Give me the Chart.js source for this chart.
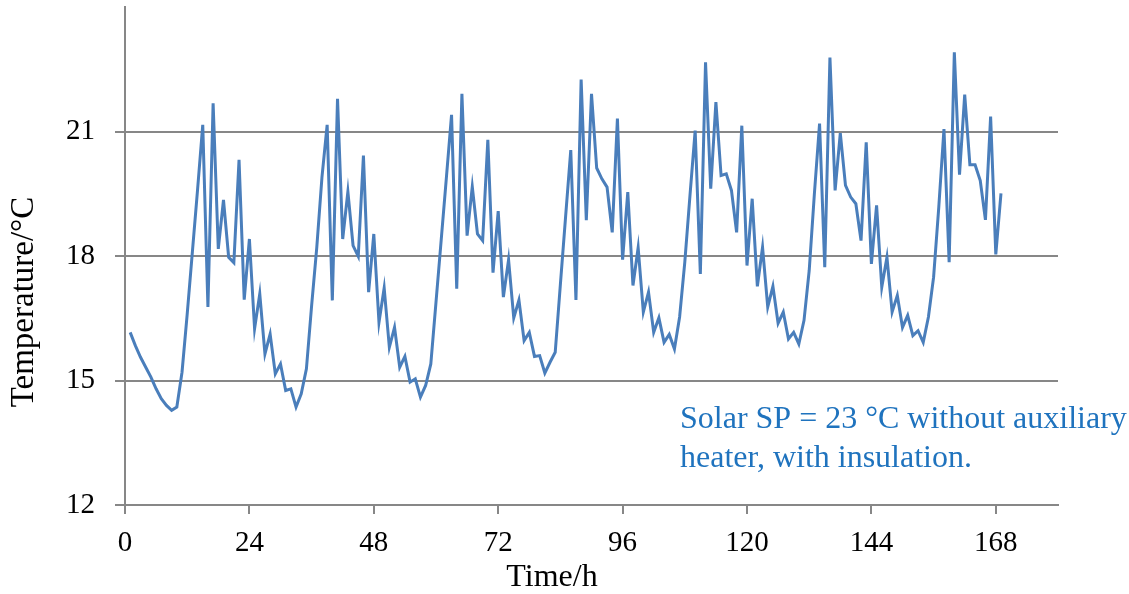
<!DOCTYPE html>
<html>
<head>
<meta charset="utf-8">
<script src="https://cdn.jsdelivr.net/npm/chart.js@4"></script>
<style>
  html, body { margin: 0; padding: 0; background: #fff; }
  #wrap { width: 1129px; height: 594px; }
</style>
</head>
<body>
<div id="wrap"><canvas id="tempChart" width="1129" height="594"></canvas></div>
<script>
// hourly temperature, one array per day (hour 1 .. 169)
const day1 = [16.16, 15.84, 15.56, 15.32, 15.08, 14.80, 14.56, 14.40, 14.28, 14.36, 15.20, 16.60,
              18.10, 19.60, 21.16, 16.77, 21.68, 18.17, 19.35, 17.97, 17.84, 20.32, 16.95, 18.41];
const day2 = [16.25, 17.09, 15.64, 16.12, 15.16, 15.40, 14.76, 14.80, 14.36, 14.68, 15.28, 16.80,
              18.21, 19.90, 21.16, 16.93, 21.79, 18.41, 19.55, 18.25, 17.99, 20.42, 17.13, 18.53];
const day3 = [16.40, 17.23, 15.80, 16.28, 15.32, 15.58, 14.96, 15.04, 14.60, 14.88, 15.40, 16.89,
              18.38, 19.88, 21.40, 17.21, 21.91, 18.49, 19.67, 18.53, 18.37, 20.80, 17.60, 19.08];
const day4 = [17.01, 17.91, 16.51, 16.94, 15.96, 16.16, 15.58, 15.60, 15.18, 15.44, 15.68, 17.32,
              18.94, 20.55, 16.94, 22.25, 18.86, 21.91, 20.12, 19.86, 19.66, 18.57, 21.31, 17.91];
const day5 = [19.54, 17.29, 18.20, 16.65, 17.13, 16.16, 16.51, 15.92, 16.11, 15.76, 16.53, 17.85,
              19.46, 21.02, 17.57, 22.67, 19.62, 21.71, 19.94, 19.98, 19.58, 18.57, 21.14, 17.77];
const day6 = [19.38, 17.27, 18.21, 16.77, 17.27, 16.38, 16.65, 16.00, 16.16, 15.88, 16.45, 17.65,
              19.50, 21.19, 17.73, 22.78, 19.58, 20.96, 19.70, 19.42, 19.26, 18.37, 20.74, 17.81];
const day7 = [19.22, 17.25, 17.97, 16.65, 17.05, 16.28, 16.57, 16.08, 16.20, 15.92, 16.53, 17.49,
              19.18, 21.06, 17.85, 22.91, 19.96, 21.89, 20.20, 20.20, 19.82, 18.87, 21.36, 18.04, 19.51];

const xTicks = [0, 24, 48, 72, 96, 120, 144, 168];
const yTicks = [12, 15, 18, 21];
const noteLines = ['Solar SP = 23 °C without auxiliary', 'heater, with insulation.'];

const temps = [].concat(day1, day2, day3, day4, day5, day6, day7);
const points = temps.map((t, i) => ({ x: i + 1, y: t }));

const serif = '"Liberation Serif", "Times New Roman", serif';
const gray = '#878787';

// axis titles and the note
const textPlugin = {
    id: 'texts',
    afterDraw(chart) {
        const ctx = chart.ctx;
        ctx.save();
        ctx.fillStyle = '#000';
        ctx.textAlign = 'center';
        ctx.textBaseline = 'middle';
        ctx.font = '32px ' + serif;
        ctx.fillText('Time/h', 552, 578);
        ctx.font = '33px ' + serif;
        ctx.translate(24, 302);
        ctx.rotate(-Math.PI / 2);
        ctx.fillText('Temperature/°C', 0, 0);
        ctx.restore();

        ctx.save();
        ctx.font = '32px ' + serif;
        ctx.fillStyle = '#1F73BE';
        ctx.textAlign = 'left';
        ctx.textBaseline = 'alphabetic';
        ctx.fillText(noteLines[0], 680, 428);
        ctx.fillText(noteLines[1], 680, 467);
        ctx.restore();
    }
};

new Chart(document.getElementById('tempChart'), {
    type: 'line',
    data: {
        datasets: [{
            data: points,
            borderColor: '#4A7EBB',
            borderWidth: 3,
            pointRadius: 0,
            tension: 0,
            fill: false
        }]
    },
    options: {
        responsive: false,
        animation: false,
        devicePixelRatio: 1,
        layout: { padding: { top: 7, right: 71, left: 0, bottom: 0 } },
        plugins: {
            legend: { display: false },
            tooltip: { enabled: false }
        },
        scales: {
            x: {
                type: 'linear',
                min: 0,
                max: 180,
                afterBuildTicks: s => { s.ticks = xTicks.map(v => ({ value: v })); },
                afterFit: s => { s.height = 89; s.paddingLeft = 0; s.paddingRight = 0; },
                grid: { drawOnChartArea: false, drawTicks: true, tickLength: 9, color: gray, lineWidth: 2 },
                border: { color: gray, width: 2 },
                ticks: { font: { family: serif, size: 29 }, color: '#000', padding: 12, maxRotation: 0, autoSkip: false }
            },
            y: {
                min: 12,
                max: 24,
                afterBuildTicks: s => { s.ticks = yTicks.map(v => ({ value: v })); },
                afterFit: s => { s.width = 125; s.paddingTop = 0; s.paddingBottom = 0; },
                grid: { color: gray, lineWidth: 2, tickLength: 10 },
                border: { color: gray, width: 2 },
                ticks: { font: { family: serif, size: 29 }, color: '#000', padding: 20 }
            }
        }
    },
    plugins: [textPlugin]
});
</script>
</body>
</html>
